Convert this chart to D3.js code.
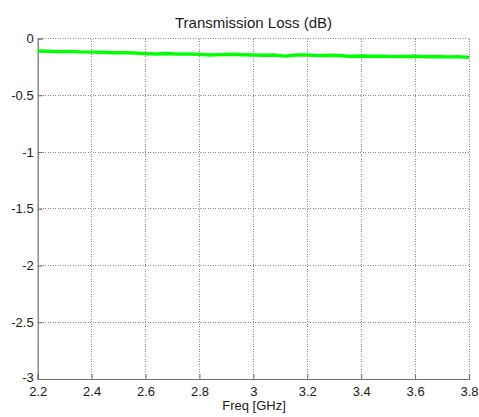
<!DOCTYPE html>
<html><head><meta charset="utf-8">
<script src="https://cdn.jsdelivr.net/npm/d3@7"></script>
<style>body{margin:0;background:#fff;} text{font-family:"Liberation Sans",Arial,sans-serif;}</style>
</head><body>
<svg id="c" width="479" height="417"></svg>
<script>
const freq = [2.20,2.24,2.28,2.32,2.36,2.40,2.44,2.48,2.52,2.56,2.60,2.64,2.68,2.72,2.76,2.80,2.84,2.88,2.92,2.96,3.00,3.04,3.08,3.12,3.16,3.20,3.24,3.28,3.32,3.36,3.40,3.44,3.48,3.52,3.56,3.60,3.64,3.68,3.72,3.76,3.80];
const loss = [-0.110,-0.112,-0.116,-0.113,-0.118,-0.120,-0.121,-0.126,-0.124,-0.128,-0.133,-0.136,-0.132,-0.138,-0.137,-0.140,-0.146,-0.142,-0.139,-0.143,-0.145,-0.147,-0.146,-0.155,-0.145,-0.146,-0.151,-0.148,-0.150,-0.159,-0.154,-0.156,-0.155,-0.160,-0.158,-0.157,-0.161,-0.158,-0.162,-0.161,-0.166];
const xTicks = [2.2,2.4,2.6,2.8,3.0,3.2,3.4,3.6,3.8];
const yTicks = [0,-0.5,-1,-1.5,-2,-2.5,-3];
const title = "Transmission Loss (dB)";
const xLabel = "Freq [GHz]";

const L=37.7, R=469, T=38.5, B=379;
const svg = d3.select("#c");
const x = d3.scaleLinear().domain([2.2,3.8]).range([L,R]);
const y = d3.scaleLinear().domain([-3,0]).range([B,T]);

// grid
const grid = svg.append("g");
xTicks.slice(1).forEach(t=>{
  grid.append("line").attr("x1",x(t)).attr("x2",x(t)).attr("y1",T).attr("y2",B)
    .attr("stroke","#8a8a8a").attr("stroke-width",1).attr("stroke-dasharray","1,1.5").attr("shape-rendering","crispEdges");
});
yTicks.slice(0,-1).forEach(t=>{
  grid.append("line").attr("x1",L).attr("x2",R).attr("y1",y(t)).attr("y2",y(t))
    .attr("stroke","#8a8a8a").attr("stroke-width",1).attr("stroke-dasharray","1,1.5").attr("shape-rendering","crispEdges");
});

// axes
const xa = svg.append("g").attr("transform",`translate(0,${B})`)
  .call(d3.axisBottom(x).tickValues(xTicks).tickSize(-5).tickPadding(8).tickFormat(d=>String(+d.toFixed(1))));
const ya = svg.append("g").attr("transform",`translate(${L},0)`)
  .call(d3.axisLeft(y).tickValues(yTicks).tickSize(-5).tickPadding(4).tickFormat(d=>String(+d.toFixed(1))));
[xa,ya].forEach(a=>{
  a.select(".domain").attr("stroke","#707070").attr("stroke-width",1.2);
  a.selectAll(".tick line").attr("stroke","#707070");
  a.selectAll("text").attr("fill","#1a1a1a").style("font-size","13px").style("font-family","Liberation Sans, Arial, sans-serif");
});
xa.selectAll(".tick text").attr("dy","0.71em");
ya.selectAll(".tick text").filter(d=>d===-3).attr("dy","0.2em");

// line
svg.append("path").datum(freq.map((f,i)=>[f,loss[i]]))
  .attr("fill","none").attr("stroke","#00ff00").attr("stroke-width",3.4).attr("stroke-linejoin","round")
  .attr("d", d3.line().x(d=>x(d[0])).y(d=>y(d[1])));

svg.append("text").attr("x",253.5).attr("y",28).attr("text-anchor","middle")
  .style("font-size","15px").attr("fill","#1a1a1a").text(title);
svg.append("text").attr("x",254).attr("y",410).attr("text-anchor","middle")
  .style("font-size","13px").attr("fill","#1a1a1a").text(xLabel);
</script>
</body></html>
